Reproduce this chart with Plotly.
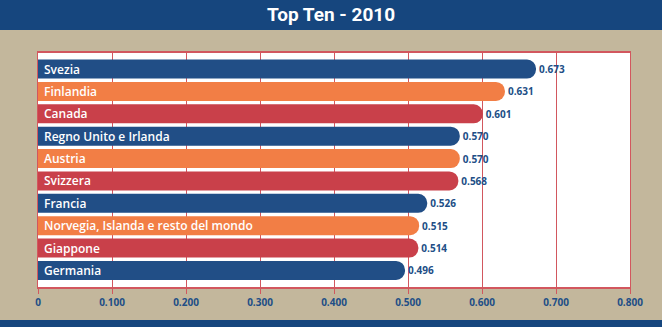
import plotly.graph_objects as go

countries = ["Svezia", "Finlandia", "Canada", "Regno Unito e Irlanda", "Austria",
             "Svizzera", "Francia", "Norvegia, Islanda e resto del mondo", "Giappone", "Germania"]
values = [0.673, 0.631, 0.601, 0.570, 0.570, 0.568, 0.526, 0.515, 0.514, 0.496]
value_labels = ["0.673", "0.631", "0.601", "0.570", "0.570", "0.568", "0.526", "0.515", "0.514", "0.496"]
tick_vals = [0, 0.1, 0.2, 0.3, 0.4, 0.5, 0.6, 0.7, 0.8]
tick_text = ["0", "0.100", "0.200", "0.300", "0.400", "0.500", "0.600", "0.700", "0.800"]

BLUE = "#214E86"
ORANGE = "#F27E45"
RED = "#C9404A"
palette = [BLUE, ORANGE, RED]
colors = [palette[i % 3] for i in range(len(countries))]

W, H = 662, 327
ML, MR, MT, MB = 38, 32, 53, 40
pw = W - ML - MR
ph = H - MT - MB

fig = go.Figure()
fig.add_trace(go.Bar(
    x=values, y=countries, orientation="h",
    marker=dict(color=colors, cornerradius="50%", line=dict(width=0)),
    text=value_labels, textposition="outside", cliponaxis=False,
    textfont=dict(family="Open Sans", size=10, color=BLUE, weight=700),
    hoverinfo="skip",
))

for c in countries:
    fig.add_annotation(x=0, y=c, text=c, showarrow=False, xanchor="left", xshift=4,
                       font=dict(family="Open Sans", size=12, color="white", weight=600))

def px_to_paper_x(px):
    return (px - ML) / pw

def px_to_paper_y(py):
    return (H - MB - py) / ph

# title bar
fig.add_shape(type="rect", xref="paper", yref="paper",
              x0=px_to_paper_x(-5), x1=px_to_paper_x(W + 5),
              y0=px_to_paper_y(30), y1=px_to_paper_y(-5),
              fillcolor="#16467E", line=dict(width=0), layer="above")
# bottom bar
fig.add_shape(type="rect", xref="paper", yref="paper",
              x0=px_to_paper_x(-5), x1=px_to_paper_x(W + 5),
              y0=px_to_paper_y(H + 5), y1=px_to_paper_y(320),
              fillcolor="#16467E", line=dict(width=0), layer="above")

fig.add_annotation(xref="paper", yref="paper", x=px_to_paper_x(W / 2), y=px_to_paper_y(15),
                   text="Top Ten - 2010", showarrow=False, xanchor="center", yanchor="middle",
                   font=dict(family="Roboto", size=19, color="white", weight=700))

fig.update_layout(
    width=W, height=H,
    margin=dict(l=ML, r=MR, t=MT, b=MB, pad=0),
    paper_bgcolor="#C3B79C", plot_bgcolor="white",
    showlegend=False, bargap=0.15,
    xaxis=dict(range=[0, 0.8], tickvals=tick_vals, ticktext=tick_text,
               showgrid=True, gridcolor="#D2575E", gridwidth=1,
               showline=True, linecolor="#D2575E", linewidth=2, mirror=True,
               ticks="outside", ticklen=5, tickcolor="#D2575E",
               tickfont=dict(family="Open Sans", size=10, color=BLUE, weight=700),
               zeroline=False, fixedrange=True),
    yaxis=dict(categoryorder="array", categoryarray=countries,
               range=[9.74, -0.72], showticklabels=False, ticks="",
               showgrid=False, showline=True, linecolor="#D2575E", linewidth=1, mirror=True,
               fixedrange=True),
)

fig.write_html("out.html")
